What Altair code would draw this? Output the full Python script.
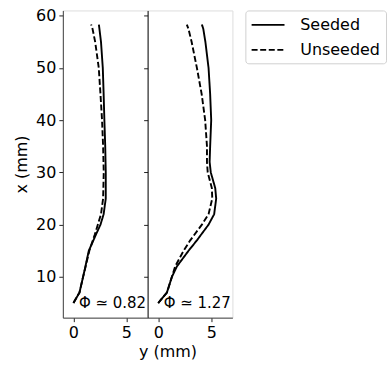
import altair as alt
import pandas as pd

# Left panel (Phi ~ 0.82)
l_seed_x = [5, 7, 10, 12, 15, 18, 20, 22, 25, 30, 35, 40, 45, 50, 55, 57.5, 58.3]
l_seed_y = [0, 0.57, 0.91, 1.13, 1.45, 2.1, 2.55, 2.85, 3.05, 3.05, 3.0, 2.92, 2.85, 2.77, 2.6, 2.45, 2.4]
l_unse_x = [5, 7, 10, 12, 15, 18, 20, 22, 25, 30, 35, 40, 45, 50, 55, 57.5, 58.3]
l_unse_y = [0, 0.57, 0.91, 1.15, 1.5, 2.0, 2.3, 2.6, 2.8, 2.86, 2.8, 2.7, 2.55, 2.39, 2.05, 1.8, 1.67]

# Right panel (Phi ~ 1.27)
r_seed_x = [5, 7, 10, 12, 15, 17, 20, 22, 25, 27, 30, 32, 35, 40, 45, 50, 55, 57.5, 58.3]
r_seed_y = [0, 0.82, 1.29, 1.76, 2.86, 3.65, 4.75, 5.28, 5.47, 5.38, 4.96, 4.85, 4.9, 5.0, 4.9, 4.75, 4.45, 4.25, 4.12]
r_unse_x = [5, 7, 10, 12, 15, 17, 20, 22, 25, 27, 30, 32, 35, 40, 45, 50, 55, 57.5, 58.3]
r_unse_y = [0, 0.82, 1.29, 1.6, 2.39, 3.02, 4.12, 4.75, 5.1, 5.06, 4.67, 4.6, 4.6, 4.43, 4.1, 3.65, 3.15, 2.85, 2.7]

series_names = ["Seeded", "Unseeded"]
phi_labels = ["Φ ≃ 0.82", "Φ ≃ 1.27"]
label_y = [6.85, 6.85]
label_x = [5.0, 5.0]

FONT = "DejaVu Sans"
FS = 16


def frame(xs, ys, name):
    return pd.DataFrame({"xmm": xs, "ymm": ys, "series": name})


left_df = pd.concat([frame(l_seed_x, l_seed_y, series_names[0]),
                     frame(l_unse_x, l_unse_y, series_names[1])])
right_df = pd.concat([frame(r_seed_x, r_seed_y, series_names[0]),
                      frame(r_unse_x, r_unse_y, series_names[1])])

dash = alt.StrokeDash(
    "series:N",
    scale=alt.Scale(domain=series_names, range=[[1, 0], [6, 2.6]]),
    legend=alt.Legend(
        title=None, orient="right", offset=12,
        symbolType="M-1,0H3", symbolSize=272, symbolStrokeWidth=1.8,
        symbolStrokeColor="black", symbolFillColor="transparent",
        labelFont=FONT, labelFontSize=FS, labelColor="black",
        labelOffset=31, rowPadding=7,
        padding=5, strokeColor="#d0d0d0", cornerRadius=3, fillColor="white",
    ),
)


def panel(df, idx, first):
    common = dict(
        grid=False,
        labelFont=FONT, labelFontSize=FS, labelColor="black",
        titleFont=FONT, titleFontSize=FS, titleFontWeight="normal", titleColor="black",
        tickSize=4, tickColor="#222",
    )
    yaxis = alt.Axis(
        values=[10, 20, 30, 40, 50, 60], labels=first,
        title="x (mm)" if first else None,
        domainColor="#111" if not first else "#444",
        labelPadding=3, titlePadding=6, **common,
    )
    if first:
        xaxis = alt.Axis(values=[0, 5], title=None, domainColor="#444",
                         labelPadding=3, labelFlush=False, **common)
    else:
        xaxis = alt.Axis(values=[0, 5], title="y (mm)", domainColor="#444",
                         labelPadding=3, titlePadding=3, labelFlush=False,
                         titleX=20, titleAlign="center", **common)
    lines = alt.Chart(df).mark_line(color="black", strokeWidth=1.9).encode(
        x=alt.X("ymm:Q", scale=alt.Scale(domain=[-1, 7], nice=False, zero=False), axis=xaxis),
        y=alt.Y("xmm:Q", scale=alt.Scale(domain=[2.2, 61], nice=False, zero=False), axis=yaxis),
        strokeDash=dash,
        order=alt.Order("xmm:Q"),
    )
    lab_df = pd.DataFrame({"ymm": [label_y[idx]], "xmm": [label_x[idx]], "t": [phi_labels[idx]]})
    text = alt.Chart(lab_df).mark_text(
        align="right", baseline="middle", font=FONT, fontSize=15, color="black"
    ).encode(x="ymm:Q", y="xmm:Q", text="t:N")
    return alt.layer(lines, text).properties(width=85, height=308)


chart = alt.hconcat(
    panel(left_df, 0, True), panel(right_df, 1, False), spacing=0, bounds="flush"
).configure_view(stroke="#444", strokeWidth=1).configure(
    padding={"left": 13, "top": 6, "right": 2, "bottom": 5}
).properties(background="white")

chart.save("out.html", embed_options={"renderer": "svg", "actions": False})
